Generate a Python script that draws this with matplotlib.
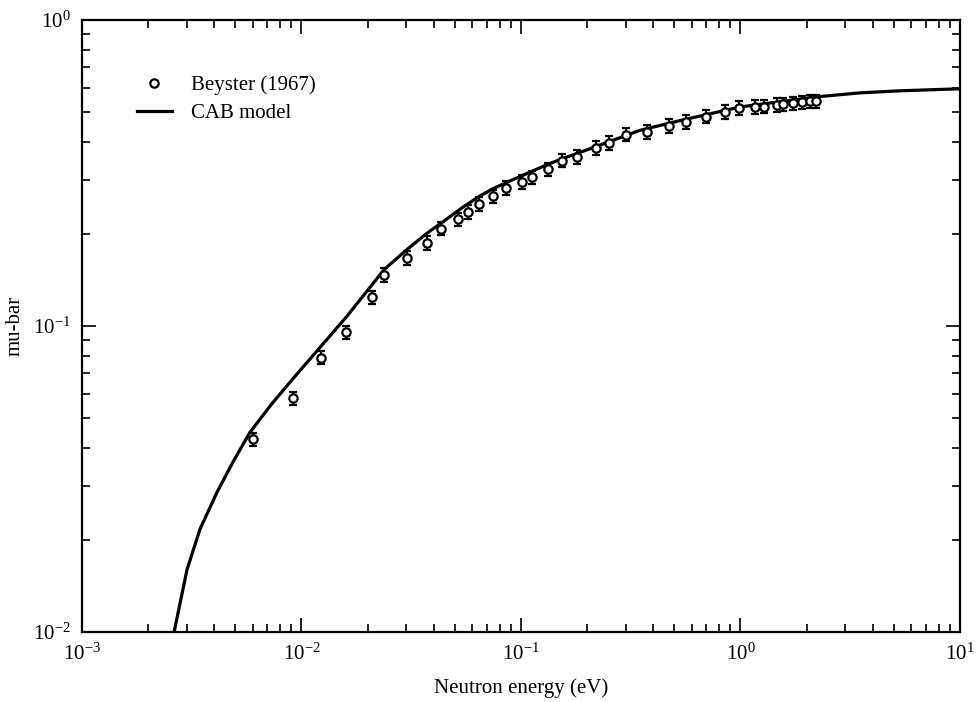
import matplotlib
matplotlib.use("Agg")
import matplotlib.pyplot as plt
from matplotlib.lines import Line2D

plt.rcParams['font.family'] = ['Liberation Serif', 'DejaVu Serif']
plt.rcParams['mathtext.default'] = 'regular'
plt.rcParams['axes.unicode_minus'] = False

## Beyster (1967) measured points
beyster_e = [0.00601, 0.00915, 0.0123, 0.0160, 0.0210, 0.0238, 0.0303, 0.0373, 0.0432,
             0.0517, 0.0574, 0.0644, 0.0745, 0.0855, 0.101, 0.112, 0.133, 0.154,
             0.180, 0.220, 0.252, 0.301, 0.375, 0.472, 0.565, 0.697, 0.849, 0.98,
             1.164, 1.28, 1.47, 1.56, 1.73, 1.91, 2.07, 2.21]
beyster_mu = [0.0426, 0.0580, 0.0789, 0.0953, 0.124, 0.147, 0.167, 0.187, 0.208,
              0.223, 0.236, 0.251, 0.265, 0.283, 0.296, 0.307, 0.325, 0.347,
              0.357, 0.382, 0.397, 0.422, 0.431, 0.451, 0.465, 0.483, 0.501, 0.516,
              0.520, 0.521, 0.528, 0.531, 0.535, 0.539, 0.542, 0.543]
beyster_err = [0.0021, 0.0029, 0.0039, 0.0048, 0.0062, 0.0074, 0.0084, 0.0094, 0.0104,
               0.011, 0.012, 0.013, 0.013, 0.014, 0.015, 0.015, 0.016, 0.017,
               0.018, 0.019, 0.020, 0.021, 0.022, 0.023, 0.023, 0.024, 0.025, 0.026,
               0.026, 0.026, 0.026, 0.027, 0.027, 0.027, 0.027, 0.027]

## CAB model curve
cab_e = [0.00255, 0.00301, 0.00345, 0.00412, 0.00487, 0.00582, 0.0073, 0.0091, 0.0123,
         0.016, 0.0209, 0.0238, 0.0303, 0.0373, 0.046, 0.055, 0.065, 0.0745, 0.092,
         0.133, 0.154, 0.22, 0.348, 0.55, 1.0, 2.23, 3.5, 5.33, 10.0]
cab_mu = [0.0090, 0.0160, 0.0217, 0.0286, 0.0359, 0.0449, 0.0555, 0.067, 0.086,
          0.107, 0.136, 0.153, 0.178, 0.201, 0.224, 0.246, 0.266, 0.281, 0.301,
          0.338, 0.352, 0.386, 0.436, 0.472, 0.520, 0.561, 0.578, 0.587, 0.596]

fig = plt.figure(figsize=(9.76, 7.02), dpi=100)
ax = fig.add_axes([0.084, 0.0997, 0.8996, 0.8718])

ax.errorbar(beyster_e, beyster_mu, yerr=beyster_err, fmt='o', mfc='white', mec='black',
            ms=6, mew=1.6, ecolor='black', elinewidth=1.5, capsize=3, capthick=1.5,
            zorder=3)
ax.plot(cab_e, cab_mu, color='black', lw=2.3, zorder=2)

ax.set_xscale('log')
ax.set_yscale('log')
ax.set_xlim(1e-3, 10)
ax.set_ylim(1e-2, 1)

ax.tick_params(which='both', direction='in', top=True, right=True, width=1.2, labelsize=15)
ax.tick_params(which='major', length=10, pad=8)
ax.tick_params(which='minor', length=6)
for s in ax.spines.values():
    s.set_linewidth(1.6)

ax.set_xlabel('Neutron energy (eV)', fontsize=15, labelpad=10)
ax.set_ylabel('mu-bar', fontsize=15, labelpad=6)

## legend with a bare marker for the data and a line for the model
h_data = Line2D([], [], marker='o', ls='none', mfc='white', mec='black', ms=6, mew=1.6)
h_line = Line2D([], [], color='black', lw=2.3)
ax.legend([h_data, h_line], ['Beyster (1967)', 'CAB model'], loc='upper left',
          bbox_to_anchor=(0.041, 0.94), frameon=False, fontsize=15, handlelength=1.7,
          handletextpad=0.9, labelspacing=0.4)

fig.savefig('out.png', dpi=100)
